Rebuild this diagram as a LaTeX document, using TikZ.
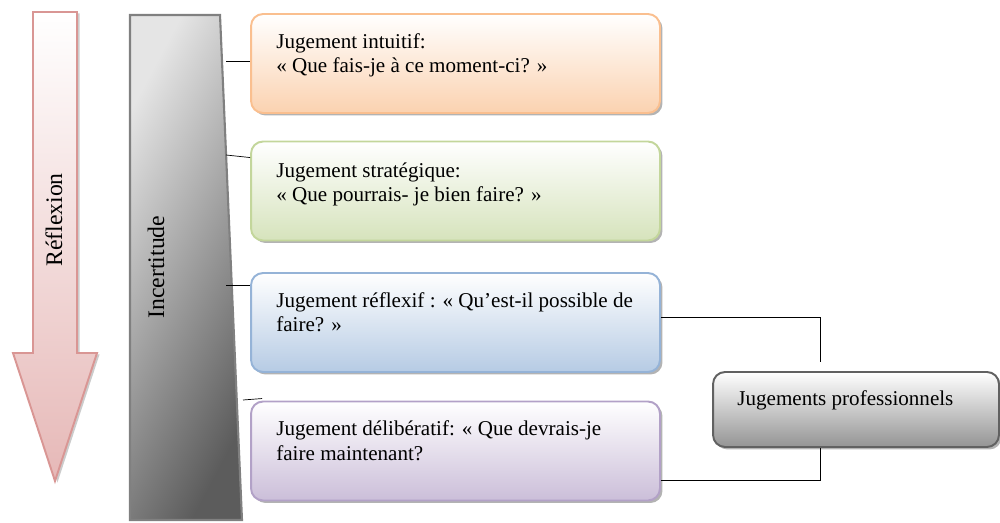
\documentclass[tikz,border=0pt]{standalone}
\usepackage{fontspec}
\setmainfont{Liberation Serif}
\usetikzlibrary{shadows}
\definecolor{orangeLine}{RGB}{250,191,143}
\definecolor{orangeFill}{RGB}{251,210,176}
\definecolor{greenLine}{RGB}{195,214,155}
\definecolor{greenFill}{RGB}{214,227,188}
\definecolor{blueLine}{RGB}{149,179,215}
\definecolor{blueFill}{RGB}{182,203,228}
\definecolor{purpleLine}{RGB}{178,161,199}
\definecolor{purpleFill}{RGB}{203,190,217}
\definecolor{arrowLine}{RGB}{217,150,148}
\definecolor{arrowFill}{RGB}{230,184,183}
\tikzset{line width=0.8pt,
  jbox/.style={draw=#1Line, line width=1.1pt, rounded corners=0.24cm,
    top color=white, bottom color=#1Fill,
    minimum width=8.18cm, minimum height=1.98cm,
    drop shadow={shadow xshift=0.05cm, shadow yshift=-0.05cm, fill=black!50, opacity=0.6}},
  jtext/.style={anchor=base west, align=left, inner sep=0pt,
    font=\fontsize{12}{14}\selectfont},
  sidetext/.style={rotate=90, inner sep=0pt, font=\fontsize{13.5}{16}\selectfont}
}
\begin{document}
\begin{tikzpicture}[x=0.02cm, y=-0.02cm]
  \useasboundingbox (0,0) rectangle (1000,523);
  \def\bx{455.5}

  % Reflexion arrow
  \draw[arrowLine, line width=1.1pt, top color=white, bottom color=arrowFill,
    drop shadow={shadow xshift=0.05cm, shadow yshift=-0.03cm, fill=black!40, opacity=0.5}]
    (33,12) -- (77,12) -- (77,353) -- (97,353) -- (55,481) -- (13,353) -- (33,353) -- cycle;
  \node[sidetext] (refl) at (54,220) {Réflexion};

  % Incertitude bar
  \draw[black!50, line width=1.2pt, top color=black!10, bottom color=black!64,
    shading angle=62] (130,15) -- (220,15) -- (242,520) -- (130,520) -- cycle;
  \node[sidetext] (incert) at (156,267) {Incertitude};
  \coordinate (tI) at (226,61);
  \coordinate (tS) at (226,155);
  \coordinate (tR) at (226,285);
  \coordinate (tD) at (243,400);

  % the four judgements (text anchored on its last line)
  \node[jbox=orange] (iBox) at (\bx,63.5) {};
  \node[jtext] (iText) at (276,73) {Jugement intuitif:\\« Que fais-je à ce moment-ci? »};
  \node[jbox=green] (sBox) at (\bx,191) {};
  \node[jtext] (sText) at (276,202) {Jugement stratégique:\\« Que pourrais- je bien faire? »};
  \node[jbox=blue] (rBox) at (\bx,322.5) {};
  \node[jtext] (rText) at (276,332) {Jugement réflexif : « Qu’est-il possible de\\faire? »};
  \node[jbox=purple] (dBox) at (\bx,451) {};
  \node[jtext] (dText) at (276,460) {Jugement délibératif: « Que devrais-je\\faire maintenant?};

  \draw (tI) -- (tI -| iBox.west);
  \draw (tS) -- ([yshift=-0.34cm]sBox.north west);
  \draw (tR) -- (tR -| rBox.west);
  \draw (tD) -- ([xshift=0.24cm,yshift=0.04cm]dBox.north west);

  % Jugements professionnels
  \node[draw=black!62, line width=1.1pt, rounded corners=0.24cm,
    top color=white, bottom color=black!42,
    minimum width=5.72cm, minimum height=1.5cm,
    drop shadow={shadow xshift=0.05cm, shadow yshift=-0.05cm, fill=black!50, opacity=0.6}]
    (pBox) at (856,409.5) {};
  \node[jtext] (pText) at (737,405) {Jugements professionnels};
  \draw ([yshift=0.11cm]rBox.east) -| ([xshift=-0.72cm,yshift=0.18cm]pBox.north);
  \draw ([yshift=-0.58cm]dBox.east) -| ([xshift=-0.72cm]pBox.south);
\end{tikzpicture}
\end{document}
